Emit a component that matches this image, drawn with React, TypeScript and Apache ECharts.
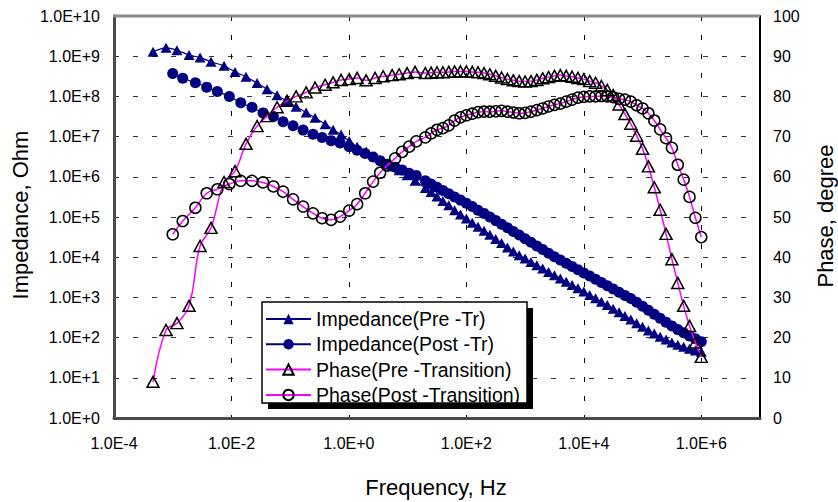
import React, { useEffect, useRef } from "react";
import * as echarts from "echarts";

// Frequencies (Hz)
const freqLowPre = [4.62e-4, 7.69e-4, 1.18e-3, 1.9e-3, 2.92e-3, 4.49e-3, 7.48e-3, 1.15e-2, 1.77e-2, 2.73e-2, 4.04e-2, 5.98e-2, 8.85e-2, 0.126, 0.187, 0.265, 0.394, 0.538, 0.736, 1.01, 1.38, 1.96, 2.79, 3.83, 5.45, 7.16, 9.79, 13.4];
const freqLowPost = [1.0e-3, 1.48e-3, 2.43e-3, 3.79e-3, 5.75e-3, 9.2e-3, 1.44e-2, 2.24e-2, 3.45e-2, 5.18e-2, 7.57e-2, 0.112, 0.166, 0.245, 0.349, 0.498, 0.708, 1.01, 1.38, 1.89, 2.58, 3.4, 4.48, 6.12, 8.05, 10.6, 14.0];
const freqHigh = [20.0, 25.1, 31.6, 39.8, 50.1, 63.1, 79.4, 100, 126, 158, 200, 251, 316, 398, 501, 631, 794, 1000, 1259, 1585, 1995, 2512, 3162, 3981, 5012, 6310, 7943, 10000, 12589, 15849, 19953, 25119, 31623, 39811, 50119, 63096, 79433, 100000, 125893, 158489, 199526, 251189, 316228, 398107, 501187, 630957, 794328, 1000000];

// Impedance (Ohm)
const impedancePre = [1.29e9, 1.62e9, 1.41e9, 1.07e9, 9.33e8, 7.24e8, 5.75e8, 4.07e8, 3.09e8, 2.14e8, 1.51e8, 1.07e8, 7.59e7, 5.5e7, 3.98e7, 2.95e7, 2.04e7, 1.48e7, 1.12e7, 7.76e6, 5.62e6, 4.27e6, 3.24e6, 2.45e6, 1.82e6, 1.45e6, 1.1e6, 7.94e5,
  5.25e5, 4.17e5, 3.24e5, 2.51e5, 1.95e5, 1.48e5, 1.15e5, 9.12e4, 7.24e4, 5.75e4, 4.57e4, 3.63e4, 2.82e4, 2.24e4, 1.74e4, 1.38e4, 1.12e4, 9.33e3, 7.59e3, 6.31e3, 5.25e3, 4.27e3, 3.55e3, 2.95e3, 2.45e3, 2.04e3, 1.7e3, 1.41e3, 1.15e3, 955, 776, 646, 525, 427, 347, 282, 229, 186, 151, 126, 105, 89.1, 75.9, 66.1, 58.9, 52.5, 47.9, 44.7];
const impedancePost = [3.72e8, 2.82e8, 2.19e8, 1.7e8, 1.32e8, 1.0e8, 6.92e7, 5.37e7, 3.89e7, 3.16e7, 2.34e7, 1.86e7, 1.45e7, 1.15e7, 9.55e6, 7.94e6, 6.92e6, 5.62e6, 4.57e6, 3.8e6, 3.09e6, 2.51e6, 2.04e6, 1.74e6, 1.48e6, 1.23e6, 1.07e6,
  7.94e5, 6.61e5, 5.5e5, 4.57e5, 3.8e5, 3.16e5, 2.63e5, 2.19e5, 1.82e5, 1.48e5, 1.23e5, 1.0e5, 8.13e4, 6.61e4, 5.37e4, 4.37e4, 3.55e4, 2.88e4, 2.34e4, 1.91e4, 1.55e4, 1.26e4, 1.02e4, 8.51e3, 7.08e3, 5.89e3, 4.9e3, 4.07e3, 3.39e3, 2.82e3, 2.34e3, 1.95e3, 1.62e3, 1.35e3, 1.12e3, 933, 759, 603, 479, 380, 302, 240, 195, 158, 132, 110, 93.3, 79.4];

// Phase (degree)
const phasePre = [9.0, 21.9, 23.6, 27.9, 42.8, 47.3, 58.7, 61.4, 68.2, 72.6, 75.1, 77.3, 78.9, 80.0, 81.0, 82.2, 82.9, 83.5, 84.1, 84.3, 84.6, 84.0, 84.6, 85.0, 85.3, 85.5, 85.8, 86.1,
  85.8, 85.9, 86.0, 86.0, 86.1, 86.2, 86.2, 86.2, 86.1, 86.0, 85.8, 85.5, 85.1, 84.7, 84.3, 84.0, 83.8, 83.7, 83.8, 84.1, 84.5, 84.8, 85.1, 85.3, 85.1, 84.9, 84.6, 84.3, 83.8, 83.4, 82.6, 81.6, 80.3, 78.0, 75.6, 73.2, 70.2, 67.0, 62.6, 57.4, 51.8, 45.8, 39.5, 33.6, 27.9, 22.9, 18.8, 15.2];
const phasePost = [45.7, 49.0, 52.3, 55.9, 56.9, 58.2, 59.0, 59.0, 58.6, 57.6, 56.3, 54.4, 52.6, 50.9, 49.7, 49.3, 50.1, 51.6, 53.2, 55.9, 58.8, 61.0, 62.8, 64.6, 66.2, 67.5, 68.8,
  69.8, 70.8, 71.7, 72.1, 72.8, 74.0, 74.8, 75.3, 75.7, 76.1, 76.2, 76.2, 76.3, 76.4, 76.2, 76.0, 75.8, 75.9, 76.2, 76.6, 77.0, 77.5, 77.9, 78.2, 78.7, 79.2, 79.7, 79.9, 80.0, 80.0, 80.1, 80.0, 79.8, 79.4, 79.2, 78.7, 77.8, 77.0, 75.8, 74.0, 71.8, 69.6, 67.2, 63.0, 59.3, 55.0, 49.8, 45.0];

const seriesNames = ["Impedance(Pre -Tr)", "Impedance(Post -Tr)", "Phase(Pre -Transition)", "Phase(Post -Transition)"];
const axisTitles = { x: "Frequency, Hz", left: "Impedance, Ohm", right: "Phase, degree" };

const FONT = "Liberation Sans";
const NAVY = "#000080";
const MAGENTA = "#ff00ff";

const freqPre = [...freqLowPre, ...freqHigh];
const freqPost = [...freqLowPost, ...freqHigh];
const pairs = (xs: number[], ys: number[]) => xs.map((x, i) => [x, ys[i]]);

const expLabel = (v: number) => {
  const e = Math.round(Math.log10(v));
  return e >= 0 ? `1.0E+${e}` : `1.0E${e}`;
};

const PLOT = { left: 114, top: 16, width: 646, height: 402 };

function buildOption(): any {
  const gridLine = (color: string) => ({ show: true, lineStyle: { color, width: 1, type: [5, 14] } });
  return {
    animation: false,
    backgroundColor: "#ffffff",
    grid: { left: PLOT.left, top: PLOT.top, width: PLOT.width, height: PLOT.height, containLabel: false },
    xAxis: {
      type: "log",
      logBase: 100,
      min: 1e-4,
      max: 1e7,
      interval: 1,
      splitNumber: 6,
      axisLine: { show: true, onZero: false, lineStyle: { color: "#4a4a4a", width: 3 } },
      axisTick: { show: false },
      minorTick: { show: false },
      axisLabel: {
        margin: 17,
        fontFamily: FONT,
        fontSize: 16,
        color: "#000",
        showMaxLabel: false,
        formatter: (v: number) => {
          const e = Math.round(Math.log10(v));
          return e % 2 === 0 && e <= 6 ? expLabel(v) : "";
        },
      },
      splitLine: gridLine("#000"),
    },
    yAxis: [
      {
        type: "log",
        logBase: 10,
        min: 1,
        max: 1e10,
        interval: 1,
        splitNumber: 10,
        position: "left",
        axisLine: { show: true, onZero: false, lineStyle: { color: "#4a4a4a", width: 3 } },
        axisTick: { show: false },
        minorTick: { show: false },
        axisLabel: { margin: 14, fontFamily: FONT, fontSize: 16, color: "#000", formatter: expLabel },
        splitLine: gridLine("#333"),
      },
      {
        type: "value",
        min: 0,
        max: 100,
        interval: 10,
        position: "right",
        axisLine: { show: true, onZero: false, lineStyle: { color: "#000", width: 2 } },
        axisTick: { show: false },
        axisLabel: { margin: 13, fontFamily: FONT, fontSize: 16, color: "#000" },
        splitLine: { show: false },
      },
    ],
    legend: {
      orient: "vertical",
      left: 265,
      top: 309,
      padding: 0,
      itemGap: 5.3,
      itemWidth: 45,
      itemHeight: 13,
      selectedMode: false,
      textStyle: { fontFamily: FONT, fontSize: 19.5, color: "#000" },
      data: seriesNames,
      z: 5,
    },
    graphic: {
      elements: [
        { type: "rect", z: 3, shape: { x: 268, y: 308, width: 265, height: 101 }, style: { fill: "#000" } },
        { type: "rect", z: 4, shape: { x: 262, y: 302, width: 265, height: 101 }, style: { fill: "#fff", stroke: "#000", lineWidth: 1.5 } },
        { type: "line", z: 10, shape: { x1: PLOT.left - 1, y1: PLOT.top, x2: PLOT.left + PLOT.width, y2: PLOT.top }, style: { stroke: "#8c8c8c", lineWidth: 3 } },
        {
          type: "text", z: 10, x: 436, y: 487,
          style: { text: axisTitles.x, font: `22px '${FONT}'`, fill: "#000", textAlign: "center", textVerticalAlign: "middle", align: "center", verticalAlign: "middle" },
        },
        {
          type: "text", z: 10, x: 20, y: 215, rotation: Math.PI / 2,
          style: { text: axisTitles.left, font: `22px '${FONT}'`, fill: "#000", textAlign: "center", textVerticalAlign: "middle", align: "center", verticalAlign: "middle" },
        },
        {
          type: "text", z: 10, x: 825, y: 216, rotation: Math.PI / 2,
          style: { text: axisTitles.right, font: `22px '${FONT}'`, fill: "#000", textAlign: "center", textVerticalAlign: "middle", align: "center", verticalAlign: "middle" },
        },
      ],
    },
    series: [
      {
        name: seriesNames[0], type: "line", xAxisIndex: 0, yAxisIndex: 0, data: pairs(freqPre, impedancePre),
        symbol: "triangle", symbolSize: [11, 10], smooth: 0.3,
        itemStyle: { color: NAVY }, lineStyle: { color: NAVY, width: 1.2 }, z: 6,
      },
      {
        name: seriesNames[1], type: "line", xAxisIndex: 0, yAxisIndex: 0, data: pairs(freqPost, impedancePost),
        symbol: "circle", symbolSize: 11, smooth: 0.3,
        itemStyle: { color: NAVY }, lineStyle: { color: NAVY, width: 1.2 }, z: 6,
      },
      {
        name: seriesNames[2], type: "line", xAxisIndex: 0, yAxisIndex: 1, data: pairs(freqPre, phasePre),
        symbol: "triangle", symbolSize: [12, 11], smooth: 0.4,
        itemStyle: { color: "transparent", borderColor: "#000", borderWidth: 1.5 }, lineStyle: { color: MAGENTA, width: 1.5 }, z: 7,
      },
      {
        name: seriesNames[3], type: "line", xAxisIndex: 0, yAxisIndex: 1, data: pairs(freqPost, phasePost),
        symbol: "circle", symbolSize: 11, smooth: 0.4,
        itemStyle: { color: "transparent", borderColor: "#000", borderWidth: 1.5 }, lineStyle: { color: MAGENTA, width: 1.5 }, z: 7,
      },
    ],
  };
}

export default function App() {
  const ref = useRef<HTMLDivElement>(null);
  useEffect(() => {
    if (!ref.current) return;
    const chart = echarts.init(ref.current, null, { renderer: "svg" });
    chart.setOption(buildOption());
    return () => chart.dispose();
  }, []);
  return (
    <div
      ref={ref}
      style={{ position: "fixed", left: 0, top: 0, width: 838, height: 502, background: "#fff" }}
    />
  );
}
